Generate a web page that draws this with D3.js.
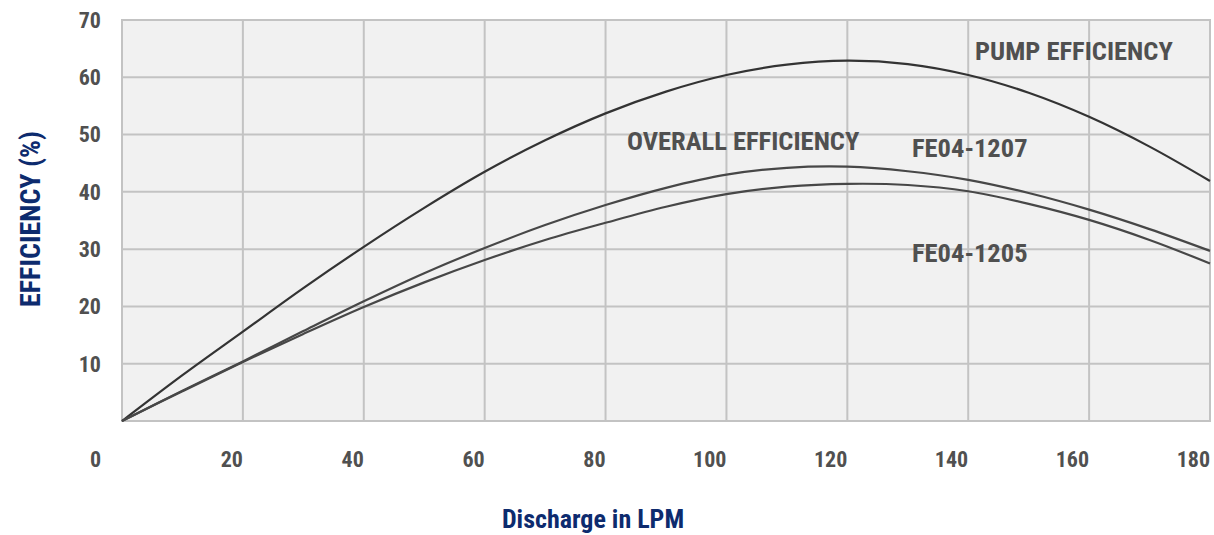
<!DOCTYPE html>
<html>
<head>
<meta charset="utf-8">
<script src="https://cdn.jsdelivr.net/npm/d3@7"></script>
<style>
  html, body { margin: 0; padding: 0; background: #fff; }
  svg text { font-family: "Liberation Sans Narrow", "Roboto Condensed", "Arial Narrow", sans-serif; font-weight: bold; }
</style>
</head>
<body>
<svg id="chart" width="1214" height="535"></svg>
<script>
const discharge = [0, 10, 20, 30, 40, 50, 60, 70, 80, 90, 100, 110, 120, 130, 140, 150, 160, 170, 180];
const pumpEfficiency = [0, 8.0, 15.6, 23.2, 30.4, 37.2, 43.5, 49.0, 53.7, 57.5, 60.4, 62.2, 62.9, 62.3, 60.4, 57.3, 53.1, 47.9, 41.9];
const overall1207 = [0, 5.3, 10.4, 15.7, 20.9, 25.8, 30.2, 34.2, 37.7, 40.7, 43.0, 44.2, 44.4, 43.6, 42.1, 39.8, 36.9, 33.5, 29.7];
const overall1205 = [0, 5.2, 10.3, 15.2, 19.9, 24.2, 28.1, 31.6, 34.6, 37.4, 39.6, 40.9, 41.4, 41.2, 40.1, 37.9, 35.1, 31.6, 27.5];
const xTicks = [20, 40, 60, 80, 100, 120, 140, 160, 180];
const yTicks = [10, 20, 30, 40, 50, 60, 70];
const seriesNames = ["PUMP EFFICIENCY", "FE04-1207", "FE04-1205"];

const svg = d3.select("#chart");
const x = d3.scaleLinear().domain([0, 180]).range([122, 1210]);
const y = d3.scaleLinear().domain([0, 70]).range([421, 20]);

const gridColor = "#c3c3c3";
const textColor = "#505050";
const navy = "#0d2b6e";

// plot background
svg.append("rect")
  .attr("x", x(0)).attr("y", y(70))
  .attr("width", x(180) - x(0)).attr("height", y(0) - y(70))
  .attr("fill", "#f1f1f1")
  .attr("stroke", gridColor).attr("stroke-width", 2);

// grid
svg.append("g").selectAll("line.v").data(xTicks.slice(0, -1)).join("line")
  .attr("x1", d => x(d)).attr("x2", d => x(d))
  .attr("y1", y(70)).attr("y2", y(0))
  .attr("stroke", gridColor).attr("stroke-width", 2);
svg.append("g").selectAll("line.h").data(yTicks.slice(0, -1)).join("line")
  .attr("x1", x(0)).attr("x2", x(180))
  .attr("y1", d => y(d)).attr("y2", d => y(d))
  .attr("stroke", gridColor).attr("stroke-width", 2);

// y tick labels
svg.append("g").selectAll("text").data(yTicks).join("text")
  .attr("x", 101).attr("y", d => y(d))
  .attr("dy", "0.36em")
  .attr("text-anchor", "end")
  .attr("font-size", 22)
  .attr("fill", textColor)
  .text(d => d);

// x tick labels (right-aligned at grid lines)
svg.append("g").selectAll("text").data(xTicks).join("text")
  .attr("x", d => x(d)).attr("y", 467)
  .attr("text-anchor", "end")
  .attr("font-size", 22)
  .attr("fill", textColor)
  .text(d => d);
svg.append("text")
  .attr("x", 101).attr("y", 467)
  .attr("text-anchor", "end")
  .attr("font-size", 22)
  .attr("fill", textColor)
  .text(0);

// lines
const line = d3.line().x((d, i) => x(discharge[i])).y(d => y(d)).curve(d3.curveCatmullRom.alpha(0.5));
const series = [
  { v: pumpEfficiency, c: "#333333" },
  { v: overall1207, c: "#474747" },
  { v: overall1205, c: "#474747" }
];
svg.append("g").selectAll("path").data(series).join("path")
  .attr("d", d => line(d.v))
  .attr("fill", "none")
  .attr("stroke", d => d.c)
  .attr("stroke-width", 2.2);

// annotations
const ann = [
  { t: seriesNames[0], x: 975, y: 60 },
  { t: "OVERALL EFFICIENCY", x: 627, y: 150 },
  { t: seriesNames[1], x: 912, y: 157 },
  { t: seriesNames[2], x: 912, y: 262 }
];
svg.append("g").selectAll("text").data(ann).join("text")
  .attr("x", d => d.x).attr("y", d => d.y)
  .attr("font-size", 26.5)
  .attr("fill", textColor)
  .text(d => d.t);

// axis titles
svg.append("text")
  .attr("x", 593).attr("y", 528)
  .attr("text-anchor", "middle")
  .attr("font-size", 26)
  .attr("fill", navy)
  .text("Discharge in LPM");
svg.append("text")
  .attr("transform", "translate(40,219) rotate(-90)")
  .attr("text-anchor", "middle")
  .attr("font-size", 28)
  .attr("fill", navy)
  .text("EFFICIENCY (%)");
</script>
</body>
</html>
